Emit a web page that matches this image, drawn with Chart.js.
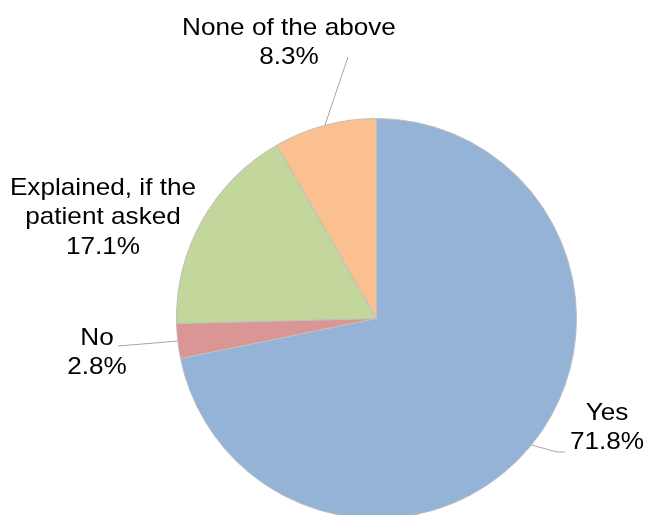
<!DOCTYPE html>
<html>
<head>
<meta charset="utf-8">
<script src="https://cdn.jsdelivr.net/npm/chart.js@4.4.1/dist/chart.umd.min.js"></script>
<style>
  html, body { margin: 0; padding: 0; background: #fff; overflow: hidden; }
  #wrap { width: 646px; height: 515px; overflow: hidden; position: relative; }
  canvas { position: absolute; left: 0; top: 0; }
</style>
</head>
<body>
<div id="wrap"><canvas id="pie" width="646" height="540"></canvas></div>
<script>
// Answer shares, clockwise from 12 o'clock
const categories = ["Yes", "No", "Explained, if the patient asked", "None of the above"];
const shares = [71.8, 2.8, 17.1, 8.3];
const labelLines = [["Yes"], ["No"], ["Explained, if the", "patient asked"], ["None of the above"]];
const sliceColors = ["#95b3d7", "#d99694", "#c3d69b", "#fac090"];

// where each callout sits: text centre + optional leader elbow/end
const callouts = [
  { x: 607, y: 413, leader: [[557, 452], [565, 452]] },
  { x: 97, y: 338, leader: [[118, 346]] },
  { x: 103, y: 188, leader: null },
  { x: 289, y: 28, leader: [[348, 57]] },
];

const FONT = '24px "Liberation Sans", Arial, sans-serif';
const LINE_H = 29.5;
const STRETCH = 1.09; // labels run a touch wide

const calloutPlugin = {
  id: "callouts",
  afterDatasetsDraw(chart) {
    const ctx = chart.ctx;
    const arcs = chart.getDatasetMeta(0).data;
    ctx.save();
    arcs.forEach((arc, i) => {
      const c = callouts[i];
      const { x, y, startAngle, endAngle, outerRadius } = arc.getProps(
        ["x", "y", "startAngle", "endAngle", "outerRadius"], true);
      if (c.leader) {
        const mid = (startAngle + endAngle) / 2;
        ctx.beginPath();
        ctx.moveTo(x + Math.cos(mid) * outerRadius, y + Math.sin(mid) * outerRadius);
        c.leader.forEach(([px, py]) => ctx.lineTo(px, py));
        ctx.strokeStyle = "#a6a6a6";
        ctx.lineWidth = 1;
        ctx.stroke();
      }
      const lines = [...labelLines[i], shares[i].toFixed(1) + "%"];
      ctx.save();
      ctx.translate(c.x, c.y);
      ctx.scale(STRETCH, 1);
      ctx.font = FONT;
      ctx.fillStyle = "#000";
      ctx.textAlign = "center";
      ctx.textBaseline = "middle";
      lines.forEach((t, k) => ctx.fillText(t, 0, k * LINE_H));
      ctx.restore();
    });
    ctx.restore();
  },
};

new Chart(document.getElementById("pie"), {
  type: "pie",
  data: {
    labels: categories,
    datasets: [{
      data: shares,
      backgroundColor: sliceColors,
      borderColor: "#bfbfbf",
      borderWidth: 1,
    }],
  },
  options: {
    responsive: false,
    animation: false,
    rotation: 0,
    layout: { padding: { left: 176, right: 69, top: 118, bottom: 21 } },
    plugins: { legend: { display: false }, tooltip: { enabled: false } },
  },
  plugins: [calloutPlugin],
});
</script>
</body>
</html>
